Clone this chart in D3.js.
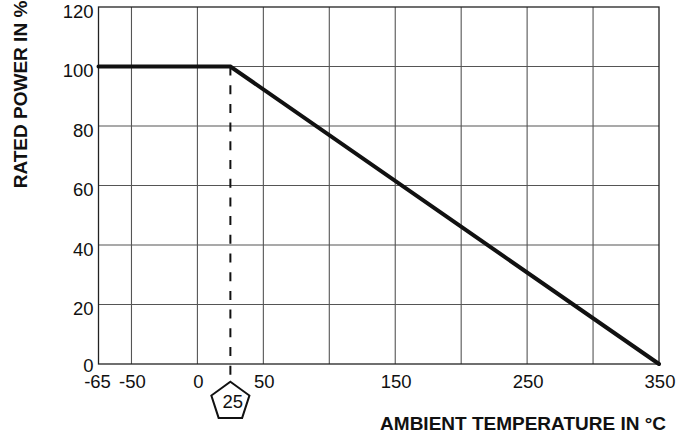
<!DOCTYPE html>
<html>
<head>
<meta charset="utf-8">
<script src="https://cdn.jsdelivr.net/npm/d3@7"></script>
<style>
  html, body { margin: 0; padding: 0; background: #fff; }
  svg { display: block; }
  text { font-family: "Liberation Sans", Arial, Helvetica, sans-serif; fill: #111; }
</style>
</head>
<body>
<svg id="chart" width="683" height="438"></svg>
<script>
// ---- data ----
const curveTemps = [-75, 25, 350];          // ambient temperature (°C), left edge of axis drawn at -75
const curvePower = [100, 100, 0];           // rated power (%)
const xTickValues = [-75, -50, 0, 50, 150, 250, 350];
const xTickLabels = ["-65", "-50", "0", "50", "150", "250", "350"];
const xGridValues = [-50, 0, 50, 100, 150, 200, 250, 300];
const yTickValues = [0, 20, 40, 60, 80, 100, 120];
const yTickLabels = ["0", "20", "40", "60", "80", "100", "120"];
const markerTemp = 25;
const markerLabel = "25";
const xTitle = "AMBIENT TEMPERATURE IN °C";
const yTitle = "RATED POWER IN %";

// ---- layout ----
const svg = d3.select("#chart");
const mLeft = 98.5, mRight = 659, mTop = 7, mBottom = 364;
const x = d3.scaleLinear().domain([-75, 350]).range([mLeft, mRight]);
const y = d3.scaleLinear().domain([0, 120]).range([mBottom, mTop]);

// grid
const g = svg.append("g");
g.selectAll(".vg").data(xGridValues).enter().append("line")
  .attr("x1", d => x(d)).attr("x2", d => x(d))
  .attr("y1", mTop).attr("y2", mBottom)
  .attr("stroke", "#555").attr("stroke-width", 1.1);
g.selectAll(".hg").data(yTickValues.slice(1, -1)).enter().append("line")
  .attr("x1", mLeft).attr("x2", mRight)
  .attr("y1", d => y(d)).attr("y2", d => y(d))
  .attr("stroke", "#555").attr("stroke-width", 1.1);
// frame
g.append("rect").attr("x", mLeft).attr("y", mTop)
  .attr("width", mRight - mLeft).attr("height", mBottom - mTop)
  .attr("fill", "none").attr("stroke", "#222").attr("stroke-width", 1.3);

// y tick labels
svg.append("g").selectAll("text").data(yTickValues).enter().append("text")
  .attr("x", 93.5).attr("y", d => y(d) + (d === 0 ? 7.5 : 10.5))
  .attr("text-anchor", "end")
  .style("font-size", "18.5px")
  .text((d, i) => yTickLabels[i]);

// x tick labels
svg.append("g").selectAll("text").data(xTickValues).enter().append("text")
  .attr("x", d => x(d) + (d === -75 ? -1 : 1)).attr("y", 388)
  .attr("text-anchor", "middle")
  .style("font-size", "18.5px")
  .text((d, i) => xTickLabels[i]);

// dashed marker line
svg.append("line")
  .attr("x1", x(markerTemp)).attr("x2", x(markerTemp))
  .attr("y1", y(100)).attr("y2", 376)
  .attr("stroke", "#111").attr("stroke-width", 2)
  .attr("stroke-dasharray", "9,9.7");

// derating curve
const pts = curveTemps.map((t, i) => [x(t), y(curvePower[i])]);
svg.append("path")
  .attr("d", d3.line()(pts))
  .attr("fill", "none").attr("stroke", "#111")
  .attr("stroke-width", 4).attr("stroke-linejoin", "miter").attr("stroke-linecap", "round");

// pentagon marker
const cx = x(markerTemp), cy = 401.7, R = 20;
const pent = d3.range(5).map(k => {
  const a = -Math.PI / 2 + k * 2 * Math.PI / 5;
  return [cx + R * Math.cos(a), cy + R * Math.sin(a)];
});
svg.append("polygon")
  .attr("points", pent.map(p => p.join(",")).join(" "))
  .attr("fill", "#fff").attr("stroke", "#111").attr("stroke-width", 2);
svg.append("text")
  .attr("x", cx + 2.5).attr("y", 408)
  .attr("text-anchor", "middle")
  .style("font-size", "18.5px")
  .text(markerLabel);

// axis titles
svg.append("text")
  .attr("x", 666).attr("y", 430)
  .attr("text-anchor", "end")
  .style("font-size", "19px").style("font-weight", "bold")
  .text(xTitle);
svg.append("text")
  .attr("transform", "translate(27,94.5) rotate(-90)")
  .attr("text-anchor", "middle")
  .style("font-size", "19px").style("font-weight", "bold")
  .text(yTitle);
</script>
</body>
</html>
